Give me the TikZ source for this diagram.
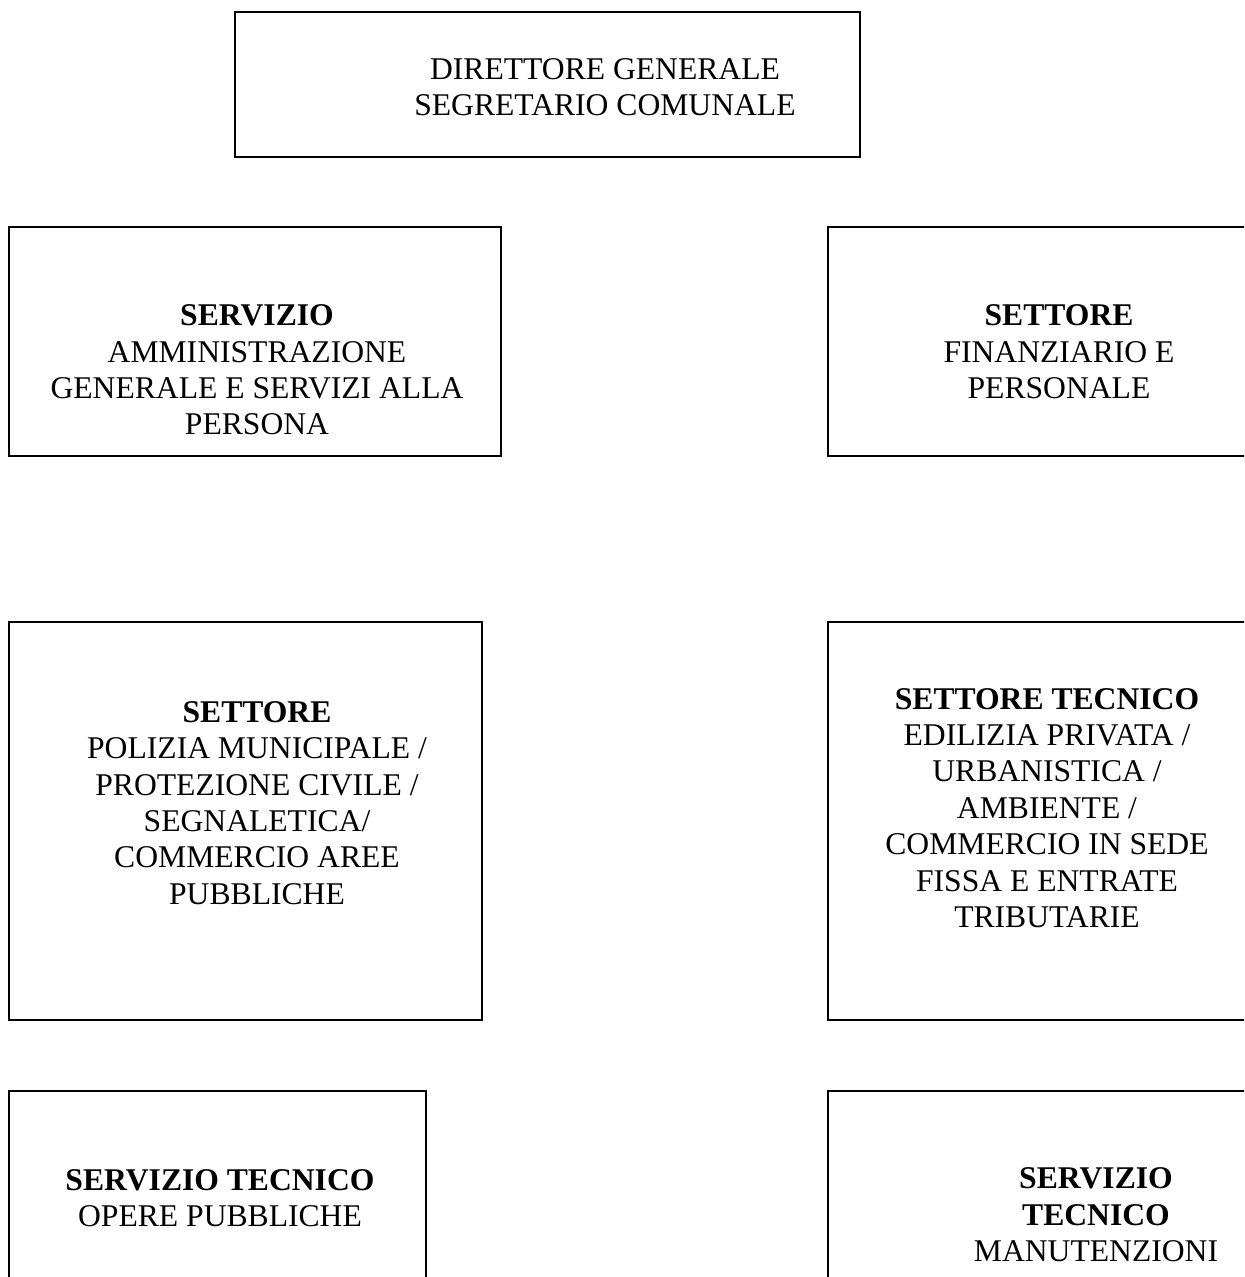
\documentclass[tikz,border=0pt]{standalone}
\usepackage{fontspec}
\setmainfont{Liberation Serif}
\usepackage{tikz}
\usetikzlibrary{positioning,fit}

\begin{document}
\begin{tikzpicture}[
x=0.02cm, y=-0.02cm,
box/.style={draw, line width=1.2pt, inner sep=0pt},
testo/.style={align=center, inner sep=0pt, font=\fontsize{18}{20.7}\selectfont}
]

\def\xmax{1244}
\def\ymax{1277}

% Rahmen der Seite
\useasboundingbox (0,0) rectangle (\xmax,\ymax);
\clip (0,0) rectangle (\xmax,\ymax);

% Kaesten
\node[box, fit={(235,12) (860,157)}] (direttore) {};
\node[box, fit={(9,227) (501,456)}] (amministrazione) {};
\node[box, fit={(828,227) (1300,456)}] (finanziario) {};
\node[box, fit={(9,622) (482,1020)}] (polizia) {};
\node[box, fit={(828,622) (1300,1020)}] (tecnico) {};
\node[box, fit={(9,1091) (426,1320)}] (opere) {};
\node[box, fit={(828,1091) (1300,1320)}] (manutenzioni) {};

% Texte
\node[testo] (direttoreTxt) at (605,87) {DIRETTORE GENERALE\\SEGRETARIO COMUNALE};
\node[testo] (amministrazioneTxt) at (257,370) {\textbf{SERVIZIO}\\AMMINISTRAZIONE\\GENERALE E SERVIZI ALLA\\PERSONA};
\node[testo] (finanziarioTxt) at (1059,352) {\textbf{SETTORE}\\FINANZIARIO E\\PERSONALE};
\node[testo] (poliziaTxt) at (257,803) {\textbf{SETTORE}\\POLIZIA MUNICIPALE /\\PROTEZIONE CIVILE /\\SEGNALETICA/\\COMMERCIO AREE\\PUBBLICHE};
\node[testo] (tecnicoTxt) at (1047,808) {\textbf{SETTORE TECNICO}\\EDILIZIA PRIVATA /\\URBANISTICA /\\AMBIENTE /\\COMMERCIO IN SEDE\\FISSA E ENTRATE\\TRIBUTARIE};
\node[testo] (opereTxt) at (220,1198) {\textbf{SERVIZIO TECNICO}\\OPERE PUBBLICHE};
\node[testo] (manutenzioniTxt) at (1096,1215) {\textbf{SERVIZIO}\\\textbf{TECNICO}\\MANUTENZIONI};

\end{tikzpicture}
\end{document}
